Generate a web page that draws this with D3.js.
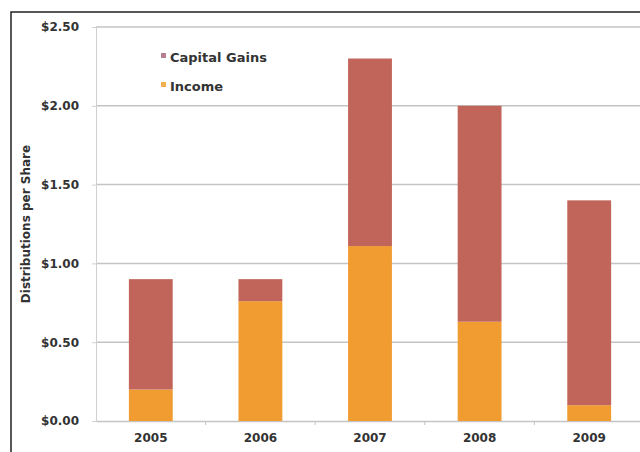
<!DOCTYPE html>
<html>
<head>
<meta charset="utf-8">
<script src="https://cdn.jsdelivr.net/npm/d3@7"></script>
<style>
  body { margin: 0; background: #fff; }
  svg { display: block; font-family: "DejaVu Sans", Verdana, sans-serif; }
</style>
</head>
<body>
<svg id="chart" width="640" height="452"></svg>
<script>
const years = ["2005", "2006", "2007", "2008", "2009"];
const income = [0.20, 0.76, 1.11, 0.63, 0.10];
const capitalGains = [0.70, 0.14, 1.19, 1.37, 1.30];
const yTicks = [0, 0.5, 1.0, 1.5, 2.0, 2.5];
const seriesNames = ["Capital Gains", "Income"];

const colors = { "Income": "#f09c30", "Capital Gains": "#c1645a" };
const font = "DejaVu Sans";

const svg = d3.select("#chart");
const plotLeft = 96, plotRight = 644, plotTop = 27, plotBottom = 421;

const x = d3.scaleBand().domain(years).range([plotLeft, plotRight]).paddingInner(0.6).paddingOuter(0.3);
const y = d3.scaleLinear().domain([0, 2.5]).range([plotBottom, plotTop]);

// frame (cropped at right/bottom)
svg.append("path")
  .attr("d", "M11,452 L11,12 L640,12")
  .attr("fill", "none").attr("stroke", "#222").attr("stroke-width", 1.5);

// gridlines
svg.append("g").selectAll("line")
  .data(yTicks.filter(d => d > 0))
  .join("line")
  .attr("x1", plotLeft).attr("x2", 640)
  .attr("y1", d => y(d)).attr("y2", d => y(d))
  .attr("stroke", "#c4c4c4").attr("stroke-width", 1.5);

// y axis
const yAxis = svg.append("g")
  .attr("transform", `translate(${plotLeft},0)`)
  .call(d3.axisLeft(y).tickValues(yTicks).tickFormat(d => "$" + d3.format(".2f")(d)).tickSize(4).tickPadding(13))
  .attr("font-family", font);
yAxis.select(".domain").attr("stroke", "#d0d0d0");
yAxis.selectAll(".tick line").attr("stroke", "#d0d0d0");
yAxis.selectAll("text")
  .attr("font-size", 12).attr("font-weight", "bold").attr("fill", "#333");

// x axis
const xAxis = svg.append("g")
  .attr("transform", `translate(0,${plotBottom})`)
  .call(d3.axisBottom(x).tickSize(0).tickPadding(12))
  .attr("font-family", font);
xAxis.select(".domain").attr("stroke", "#c4c4c4").attr("stroke-width", 1.5);
xAxis.selectAll("text")
  .attr("font-size", 12).attr("font-weight", "bold").attr("fill", "#333");

// category boundary ticks
const step = x.step();
svg.append("g").selectAll("line")
  .data(years.slice(1))
  .join("line")
  .attr("x1", d => x(d) - step * 0.3).attr("x2", d => x(d) - step * 0.3)
  .attr("y1", plotBottom).attr("y2", plotBottom + 4)
  .attr("stroke", "#c4c4c4");

// stacked bars
const rows = years.map((yr, i) => ({ year: yr, "Income": income[i], "Capital Gains": capitalGains[i] }));
const stack = d3.stack().keys(["Income", "Capital Gains"])(rows);

svg.append("g").selectAll("g")
  .data(stack)
  .join("g")
  .attr("fill", d => colors[d.key])
  .selectAll("rect")
  .data(d => d)
  .join("rect")
  .attr("x", d => x(d.data.year))
  .attr("width", x.bandwidth())
  .attr("y", d => y(d[1]))
  .attr("height", d => y(d[0]) - y(d[1]));

// y title
svg.append("text")
  .attr("transform", "translate(30,224) rotate(-90)")
  .attr("text-anchor", "middle")
  .attr("font-size", 12).attr("font-weight", "bold").attr("fill", "#333")
  .text("Distributions per Share");

// legend
const legend = svg.append("g").selectAll("g")
  .data(seriesNames)
  .join("g")
  .attr("transform", (d, i) => `translate(161,${57 + i * 29})`);
legend.append("rect")
  .attr("x", 0).attr("y", -4).attr("width", 5).attr("height", 5)
  .attr("fill", d => d === "Income" ? "#f0b050" : "#b47f90");
legend.append("text")
  .attr("x", 9).attr("y", 0).attr("dy", "0.35em")
  .attr("font-size", 13).attr("font-weight", "bold").attr("fill", "#333")
  .text(d => d);
</script>
</body>
</html>
